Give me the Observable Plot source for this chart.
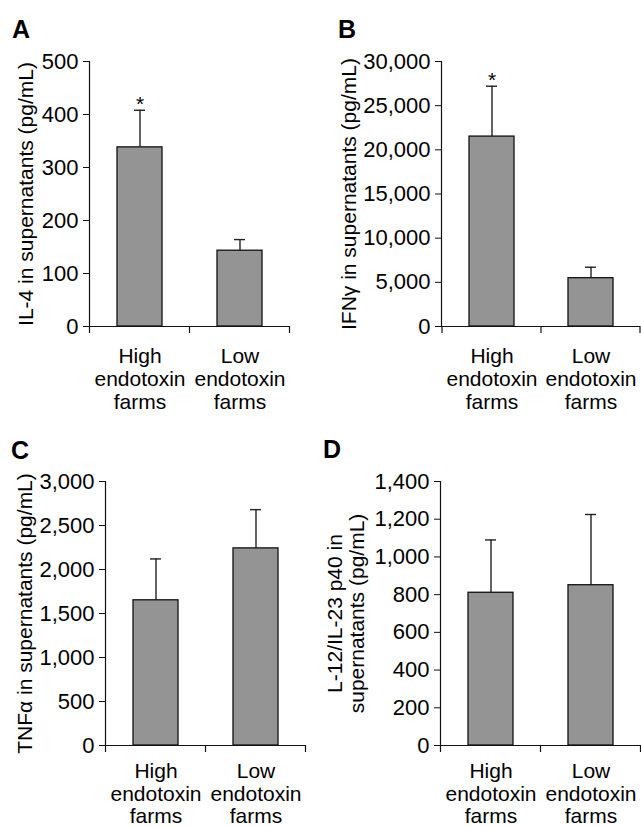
<!DOCTYPE html>
<html>
<head>
<meta charset="utf-8">
<script src="https://cdn.jsdelivr.net/npm/d3@7"></script>
<script src="https://cdn.jsdelivr.net/npm/@observablehq/plot@0.6"></script>
<style>
  body { margin: 0; background: #fff; }
  #fig { position: relative; width: 641px; height: 827px; font-family: "Liberation Sans", Arial, Helvetica, sans-serif; color: #000; }
  .panel { position: absolute; }
  .letter { position: absolute; font-weight: bold; font-size: 25px; line-height: 25px; }
</style>
</head>
<body>
<div id="fig"></div>
<script>
// ---- data ----
const categories = ["High endotoxin farms", "Low endotoxin farms"];
const categoryLabels = ["High\nendotoxin\nfarms", "Low\nendotoxin\nfarms"];

const il4Mean = [338, 143];
const il4Err = [70, 21];
const il4Sig = ["*", ""];
const il4Ticks = [0, 100, 200, 300, 400, 500];

const ifngMean = [21500, 5470];
const ifngErr = [5700, 1240];
const ifngSig = ["*", ""];
const ifngTicks = [0, 5000, 10000, 15000, 20000, 25000, 30000];

const tnfaMean = [1650, 2240];
const tnfaErr = [470, 440];
const tnfaSig = ["", ""];
const tnfaTicks = [0, 500, 1000, 1500, 2000, 2500, 3000];

const il12Mean = [810, 850];
const il12Err = [280, 375];
const il12Sig = ["", ""];
const il12Ticks = [0, 200, 400, 600, 800, 1000, 1200, 1400];

// ---- layout ----
const panels = [
  {letter: "A", mean: il4Mean, err: il4Err, sig: il4Sig, ticks: il4Ticks,
   label: "IL-4 in supernatants (pg/mL)",
   left: 0, top: 0, width: 320, height: 410, ml: 89, mr: 31, mt: 61, mb: 84, labelDx: -64,
   catDy: 20, catLH: 1.1, letterX: 12, letterY: 17},
  {letter: "B", mean: ifngMean, err: ifngErr, sig: ifngSig, ticks: ifngTicks,
   label: "IFN\u03b3 in supernatants (pg/mL)",
   left: 320, top: 0, width: 321, height: 410, ml: 121, mr: 1, mt: 61, mb: 84, labelDx: -93,
   catDy: 20, catLH: 1.1, letterX: 338, letterY: 17},
  {letter: "C", mean: tnfaMean, err: tnfaErr, sig: tnfaSig, ticks: tnfaTicks,
   label: "TNF\u03b1 in supernatants (pg/mL)",
   left: 0, top: 420, width: 320, height: 407, ml: 105, mr: 15, mt: 61, mb: 82, labelDx: -81,
   catDy: 17, catLH: 1.06, letterX: 11, letterY: 438},
  {letter: "D", mean: il12Mean, err: il12Err, sig: il12Sig, ticks: il12Ticks,
   label: "L-12/IL-23 p40 in\nsupernatants (pg/mL)",
   left: 320, top: 420, width: 321, height: 407, ml: 120, mr: 1, mt: 61, mb: 82, labelDx: -95,
   catDy: 17, catLH: 1.06, letterX: 323, letterY: 437}
];

const fig = document.getElementById("fig");
const fontFamily = "'Liberation Sans', Arial, Helvetica, sans-serif";

for (const p of panels) {
  const rows = categories.map((c, i) => ({cat: c, mean: p.mean[i], top: p.mean[i] + p.err[i], sig: p.sig[i]}));
  const plot = Plot.plot({
    width: p.width,
    height: p.height,
    marginLeft: p.ml,
    marginRight: p.mr,
    marginTop: p.mt,
    marginBottom: p.mb,
    style: {fontFamily, background: "transparent", color: "#000", overflow: "visible"},
    x: {domain: categories, paddingInner: 0.55, paddingOuter: 0.275, axis: null},
    y: {domain: [0, p.ticks[p.ticks.length - 1]], axis: null},
    marks: [
      Plot.ruleX(rows, {x: "cat", y1: "mean", y2: "top", stroke: "#222", strokeWidth: 1.4}),
      Plot.tickY(rows, {x: "cat", y: "top", stroke: "#222", strokeWidth: 1.4, insetLeft: 17, insetRight: 17}),
      Plot.barY(rows, {x: "cat", y: "mean", fill: "#949494", stroke: "#111", strokeWidth: 1.3}),
      Plot.text(rows, {x: "cat", y: "top", text: "sig", dy: -6, fontSize: 21}),
      Plot.ruleY([0], {stroke: "#111", strokeWidth: 1.2}),
      Plot.frame({anchor: "left", stroke: "#111", strokeWidth: 1.2}),
      Plot.axisY({ticks: p.ticks, tickFormat: d3.format(","), tickSize: 6, tickPadding: 5,
                  fontSize: 22, label: null, stroke: "#111"}),
      Plot.text(categories, {x: d => d, text: (d, i) => categoryLabels[i], frameAnchor: "bottom",
                  lineAnchor: "top", dy: p.catDy, lineHeight: p.catLH, fontSize: 21}),
      Plot.text([p.label], {text: d => d, frameAnchor: "left", textAnchor: "middle", rotate: -90,
                  dx: p.labelDx, fontSize: 21, lineHeight: 1.05})
    ]
  });
  // category boundary ticks on the x axis, from the plot's own band scale
  const sx = plot.scale("x"), sy = plot.scale("y");
  const y0 = sy.apply(0);
  const half = (sx.step - sx.bandwidth) / 2;
  const bounds = [sx.apply(categories[0]) - half, ...categories.map(c => sx.apply(c) + sx.bandwidth + half)];
  d3.select(plot).append("g").attr("stroke", "#111").attr("stroke-width", 1.2)
    .selectAll("line").data(bounds).join("line")
    .attr("x1", d => d).attr("x2", d => d).attr("y1", y0).attr("y2", y0 + 7);

  plot.classList.add("panel");
  plot.style.left = p.left + "px";
  plot.style.top = p.top + "px";
  fig.appendChild(plot);

  const L = document.createElement("div");
  L.className = "letter";
  L.textContent = p.letter;
  L.style.left = p.letterX + "px";
  L.style.top = p.letterY + "px";
  fig.appendChild(L);
}
</script>
</body>
</html>
